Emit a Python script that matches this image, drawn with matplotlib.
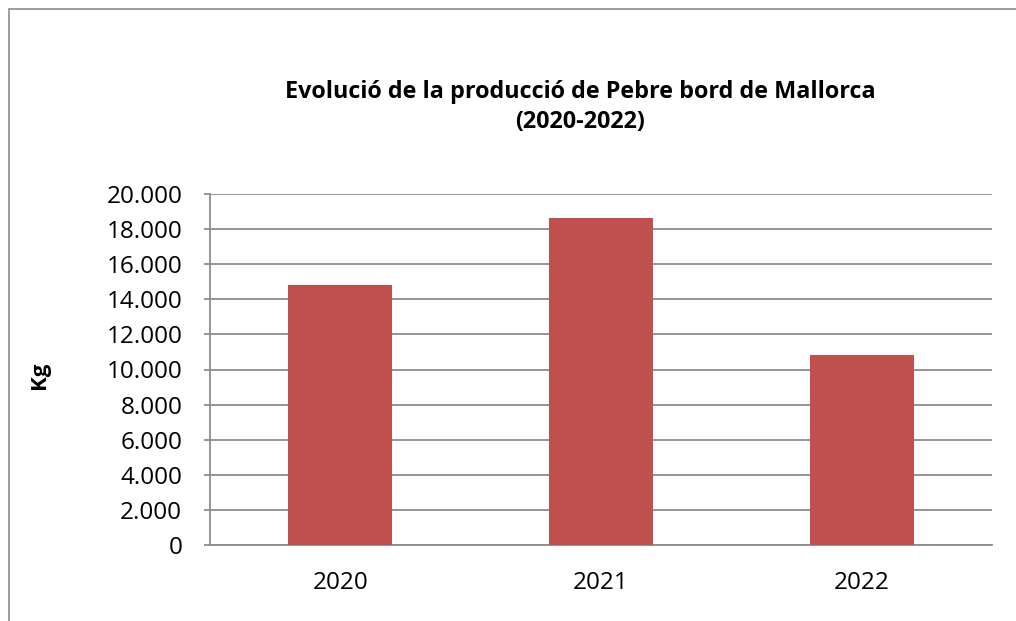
import matplotlib.pyplot as plt
from matplotlib.patches import Rectangle
from matplotlib.ticker import FuncFormatter

# dades
anys = ['2020', '2021', '2022']
produccio_kg = [14830, 18640, 10800]

plt.rcParams['font.family'] = ['Open Sans', 'DejaVu Sans']

fig = plt.figure(figsize=(10.16, 6.21), dpi=100)
ax = fig.add_axes([210 / 1016, 76 / 621, 782 / 1016, 351 / 621])

ax.bar(anys, produccio_kg, width=0.4, color='#C0504D', zorder=3)

ax.set_xlim(-0.5, 2.5)
ax.set_ylim(0, 20000)
ax.set_yticks(range(0, 20001, 2000))
ax.yaxis.set_major_formatter(FuncFormatter(lambda v, p: f'{int(v):,}'.replace(',', '.')))

ax.grid(axis='y', color='#8c8c8c', linewidth=1.3, zorder=0)
for s in ['top', 'right']:
    ax.spines[s].set_visible(False)
ax.spines['left'].set_color('#8c8c8c')
ax.spines['bottom'].set_color('#8c8c8c')
ax.spines['left'].set_linewidth(1.3)
ax.spines['bottom'].set_linewidth(1.3)

ax.tick_params(axis='y', length=4, width=1.3, color='#8c8c8c', pad=16, labelsize=17.5)
ax.tick_params(axis='x', length=0, pad=19, labelsize=17.5)

fig.text(40 / 1016, 1 - 375 / 621, 'Kg', rotation=90, ha='center', va='center',
         fontsize=16, fontweight='bold')

fig.text(580 / 1016, 1 - 107 / 621,
         'Evolució de la producció de Pebre bord de Mallorca\n(2020-2022)',
         ha='center', va='center', fontsize=16.8, fontweight='bold',
         linespacing=1.35)

# marc exterior
fig.patches.append(Rectangle((9 / 1016, -0.1), 1.2, 1 - 9 / 621 + 0.1,
                             transform=fig.transFigure, fill=False,
                             edgecolor='#8c8c8c', linewidth=1.2))

fig.savefig('out.png', dpi=100)
